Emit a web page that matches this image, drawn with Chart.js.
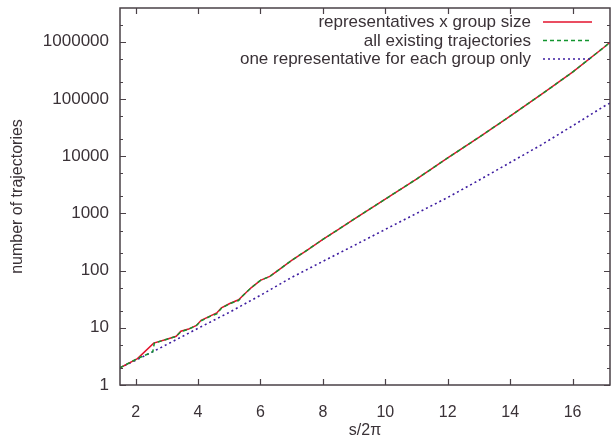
<!DOCTYPE html>
<html>
<head>
<meta charset="utf-8">
<script src="https://cdn.jsdelivr.net/npm/chart.js@4.4.1/dist/chart.umd.min.js"></script>
<style>
  html, body { margin: 0; padding: 0; background: #fff; }
  #wrap { width: 612px; height: 440px; }
</style>
</head>
<body>
<div id="wrap"><canvas id="trajChart" width="612" height="440"></canvas></div>
<script>
// data (s/2pi vs number of trajectories)
const sRed = [1.5, 2.06, 2.58, 3.0, 3.3, 3.45, 3.7, 3.95, 4.1, 4.4, 4.6, 4.75, 5.0, 5.3, 5.45, 5.7, 6.0, 6.3, 6.5, 7, 7.5, 8, 8.5, 9, 9.5, 10, 11, 12, 13, 14, 15, 16, 17, 17.2];
const nRed = [2.0, 2.9, 5.4, 6.3, 7.1, 8.7, 9.5, 11.0, 13.5, 16.2, 18.2, 22.4, 26.3, 30.9, 37.2, 50, 67.6, 79, 95, 151, 229, 351, 525, 794, 1190, 1780, 3980, 9330, 21400, 50100, 120000, 295000, 794000, 977000];

const sGreen = [1.5, 2.06, 2.55, 2.6, 3.0, 3.3, 3.45, 3.7, 3.95, 4.1, 4.4, 4.6, 4.75, 5.0, 5.3, 5.45, 5.7, 6.0, 6.3, 6.5, 7, 7.5, 8, 8.5, 9, 9.5, 10, 11, 12, 13, 14, 15, 16, 17, 17.2];
const nGreen = [2.0, 2.9, 3.8, 5.4, 6.3, 7.1, 8.5, 9.5, 11.0, 13.2, 16.0, 17.5, 22.0, 26.3, 30.0, 37.2, 50, 67.6, 79, 95, 151, 229, 351, 525, 794, 1190, 1780, 3980, 9330, 21400, 50100, 120000, 295000, 794000, 977000];

const sBlue = [1.5, 2, 2.5, 3, 4, 5, 6, 7, 8, 9, 10, 11, 12, 13, 14, 15, 16, 17, 17.2];
const nBlue = [2.0, 2.7, 3.7, 5.1, 9.8, 18.6, 37, 76, 145, 275, 525, 1000, 1900, 3800, 7760, 15800, 33900, 74100, 85000];

const xTicks = [2, 4, 6, 8, 10, 12, 14, 16];
const yTicks = [1, 10, 100, 1000, 10000, 100000, 1000000];
const yMinor = [2, 5];

const legendLabels = ['representatives x group size', 'all existing trajectories', 'one representative for each group only'];

const axisColor = '#4a4147';
const textColor = '#3a3237';
const fontFamily = '"Liberation Sans", Arial, Helvetica, sans-serif';

function toPoints(xs, ys) {
  return xs.map((x, i) => ({ x: x, y: ys[i] }));
}

// box, inward ticks on all four sides, and the key
const framePlugin = {
  id: 'frame',
  afterDraw(chart) {
    const { ctx, chartArea: a, scales } = chart;
    const xs = scales.x, ys = scales.y;
    ctx.save();
    ctx.strokeStyle = axisColor;
    ctx.lineWidth = 1.5;
    ctx.strokeRect(a.left, a.top, a.right - a.left, a.bottom - a.top);

    ctx.lineWidth = 1.2;
    ctx.beginPath();
    xTicks.forEach(v => {
      const px = Math.round(xs.getPixelForValue(v)) + 0.5;
      ctx.moveTo(px, a.bottom); ctx.lineTo(px, a.bottom - 6);
      ctx.moveTo(px, a.top); ctx.lineTo(px, a.top + 6);
    });
    yTicks.forEach(v => {
      const py = Math.round(ys.getPixelForValue(v)) + 0.5;
      ctx.moveTo(a.left, py); ctx.lineTo(a.left + 6, py);
      ctx.moveTo(a.right, py); ctx.lineTo(a.right - 6, py);
    });
    ctx.stroke();

    ctx.lineWidth = 1;
    ctx.beginPath();
    yTicks.concat([10000000]).forEach(dec => {
      yMinor.forEach(m => {
        const v = dec / 10 * m;
        if (v < ys.min || v > ys.max) return;
        const py = Math.round(ys.getPixelForValue(v)) + 0.5;
        ctx.moveTo(a.left, py); ctx.lineTo(a.left + 3, py);
        ctx.moveTo(a.right, py); ctx.lineTo(a.right - 3, py);
      });
    });
    ctx.stroke();

    // key, top right
    const rows = [22.5, 41, 59.5];
    ctx.font = '17px ' + fontFamily;
    ctx.fillStyle = textColor;
    ctx.textAlign = 'right';
    ctx.textBaseline = 'middle';
    chart.data.datasets.forEach((ds, i) => {
      ctx.fillText(legendLabels[i], 531, rows[i]);
      ctx.strokeStyle = ds.borderColor;
      ctx.lineWidth = ds.borderWidth;
      ctx.setLineDash(ds.borderDash || []);
      ctx.beginPath();
      ctx.moveTo(543, rows[i] - 0.5);
      ctx.lineTo(592, rows[i] - 0.5);
      ctx.stroke();
    });
    ctx.restore();
  }
};

document.addEventListener('DOMContentLoaded', function() {
  const ctx = document.getElementById('trajChart');

  new Chart(ctx, {
    type: 'line',
    data: {
      datasets: [{
        label: legendLabels[0],
        data: toPoints(sRed, nRed),
        borderColor: '#e3122c',
        borderWidth: 1.5,
        pointRadius: 0,
        tension: 0,
        fill: false,
        order: 1,
      }, {
        label: legendLabels[1],
        data: toPoints(sGreen, nGreen),
        borderColor: '#12952f',
        borderWidth: 1.5,
        borderDash: [4, 3],
        pointRadius: 0,
        tension: 0,
        fill: false,
        order: 0,
      }, {
        label: legendLabels[2],
        data: toPoints(sBlue, nBlue),
        borderColor: '#3d1ca0',
        borderWidth: 1.6,
        borderDash: [2, 3],
        pointRadius: 0,
        tension: 0,
        fill: false,
        order: 2,
      }]
    },
    plugins: [framePlugin],
    options: {
      responsive: false,
      animation: false,
      events: [],
      layout: { padding: { top: 8, right: 2, left: 0, bottom: 0 } },
      plugins: {
        legend: { display: false },
        tooltip: { enabled: false },
      },
      scales: {
        x: {
          type: 'linear',
          min: 1.5,
          max: 17.2,
          grid: { display: false },
          border: { display: false },
          afterBuildTicks: s => { s.ticks = xTicks.map(v => ({ value: v })); },
          afterFit: s => { s.height = 55; },
          ticks: {
            color: textColor,
            padding: 10,
            maxRotation: 0,
            font: { family: fontFamily, size: 16 },
          },
          title: {
            display: true,
            text: 's/2π',
            color: textColor,
            padding: { top: 2, bottom: 0 },
            font: { family: fontFamily, size: 16 },
          },
        },
        y: {
          type: 'logarithmic',
          min: 1,
          max: 3900000,
          grid: { display: false },
          border: { display: false },
          afterBuildTicks: s => { s.ticks = yTicks.map(v => ({ value: v })); },
          afterFit: s => { s.width = 120; s.paddingTop = 0; },
          ticks: {
            color: textColor,
            padding: 3,
            font: { family: fontFamily, size: 17 },
            callback: v => String(v),
          },
          title: {
            display: true,
            text: 'number of trajectories',
            color: textColor,
            padding: { top: 8, bottom: 0 },
            font: { family: fontFamily, size: 16 },
          },
        },
      },
    },
  });
});
</script>
</body>
</html>
